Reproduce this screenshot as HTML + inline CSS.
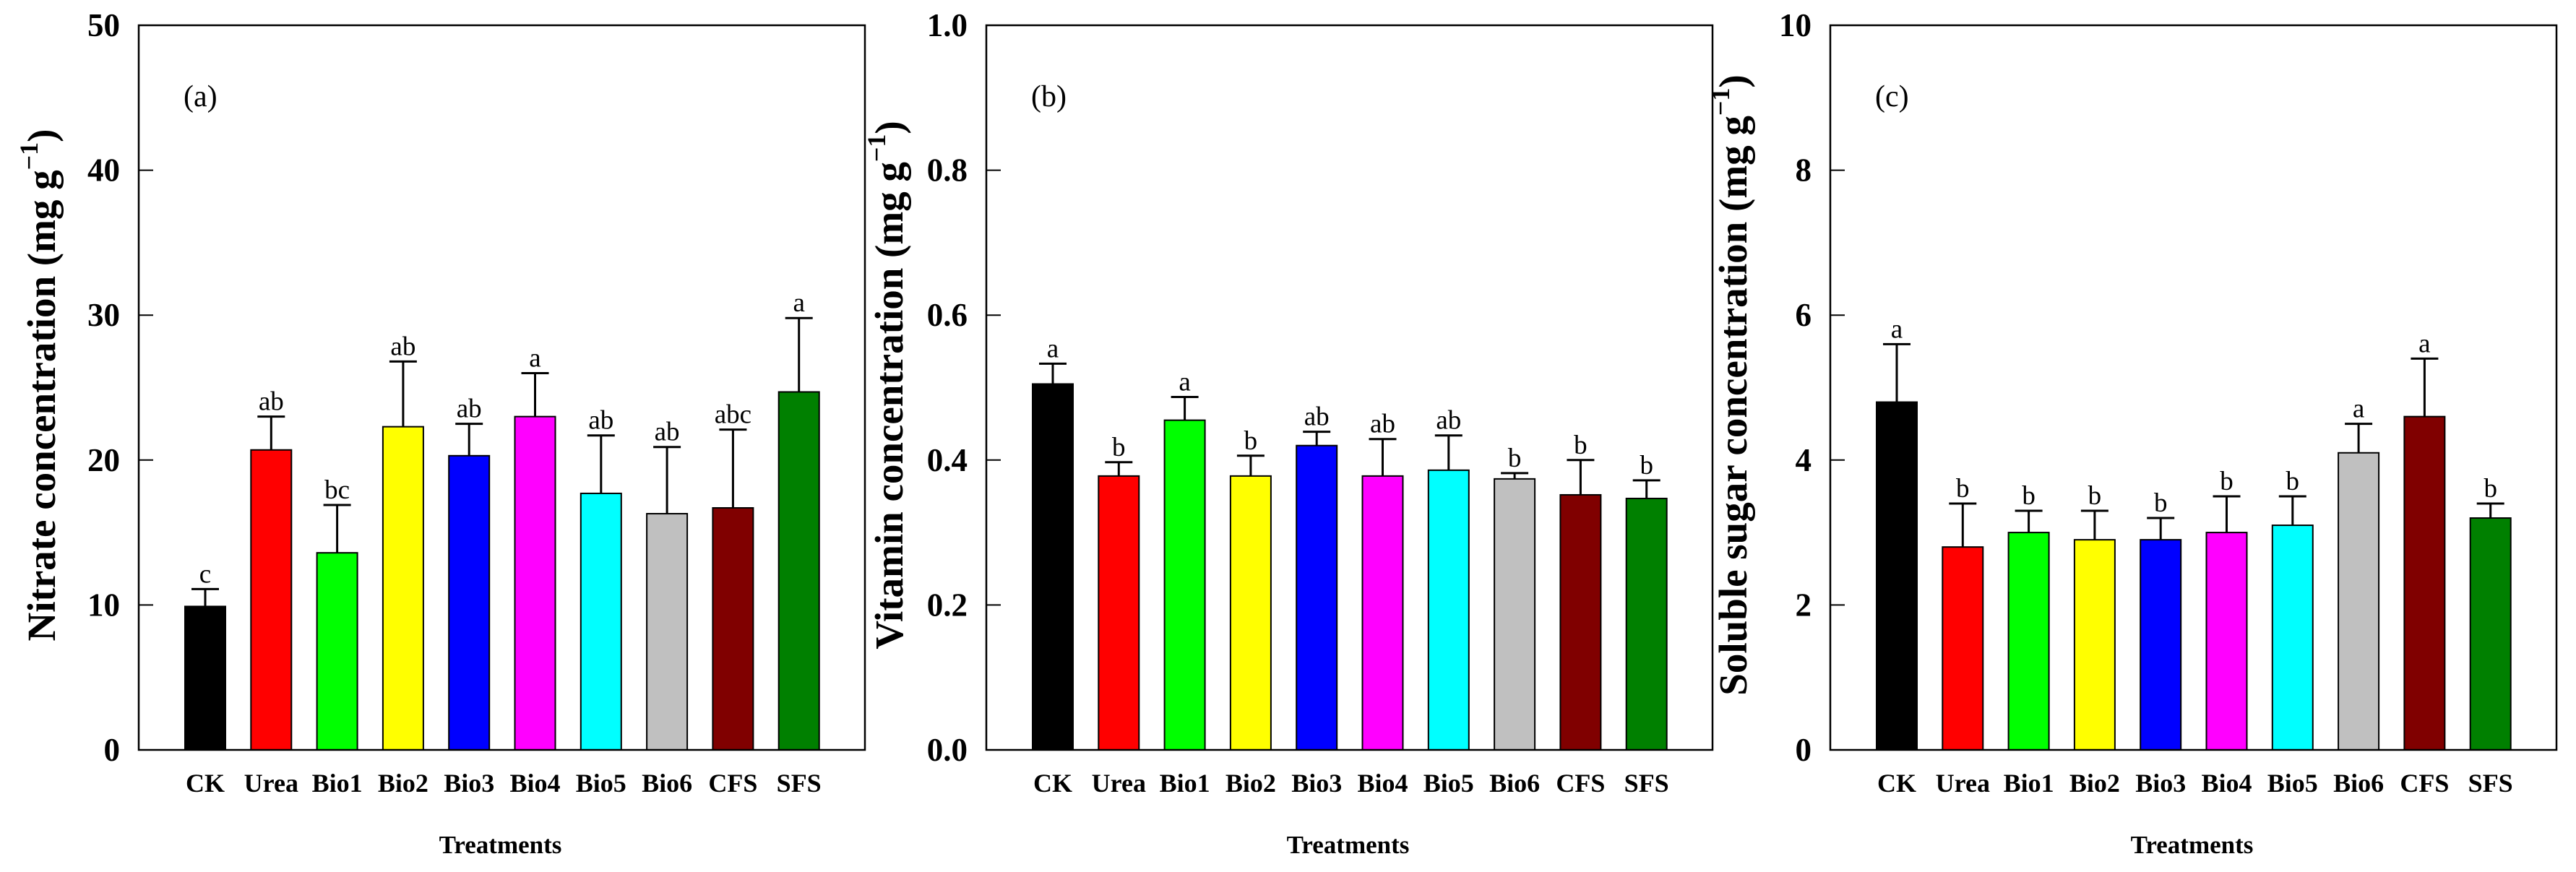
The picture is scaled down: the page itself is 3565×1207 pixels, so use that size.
<!DOCTYPE html>
<html><head><meta charset="utf-8"><style>
html,body{margin:0;padding:0;background:#fff;}
svg{display:block;font-family:"Liberation Serif",serif;}
</style></head><body>
<svg id="chart" width="3565" height="1207" viewBox="0 0 3565 1207" xmlns="http://www.w3.org/2000/svg"></svg>
<script>
const categories = ["CK","Urea","Bio1","Bio2","Bio3","Bio4","Bio5","Bio6","CFS","SFS"];
const colors = ["#000000","#ff0000","#00ff00","#ffff00","#0000ff","#ff00ff","#00ffff","#c0c0c0","#800000","#008000"];
const nitrateMean = [9.9,20.7,13.6,22.3,20.3,23.0,17.7,16.3,16.7,24.7];
const nitrateErr  = [1.2,2.3,3.3,4.5,2.2,3.0,4.0,4.6,5.4,5.1];
const nitrateSig  = ["c","ab","bc","ab","ab","a","ab","ab","abc","a"];
const nitrateTicks = ["0","10","20","30","40","50"];
const vitaminMean = [0.505,0.378,0.455,0.378,0.420,0.378,0.386,0.374,0.352,0.347];
const vitaminErr  = [0.028,0.019,0.032,0.028,0.019,0.051,0.048,0.008,0.048,0.025];
const vitaminSig  = ["a","b","a","b","ab","ab","ab","b","b","b"];
const vitaminTicks = ["0.0","0.2","0.4","0.6","0.8","1.0"];
const sugarMean = [4.8,2.8,3.0,2.9,2.9,3.0,3.1,4.1,4.6,3.2];
const sugarErr  = [0.8,0.6,0.3,0.4,0.3,0.5,0.4,0.4,0.8,0.2];
const sugarSig  = ["a","b","b","b","b","b","b","a","a","b"];
const sugarTicks = ["0","2","4","6","8","10"];

const NS="http://www.w3.org/2000/svg";
const svgEl=document.getElementById('chart');
function mk(tag,attrs,parent){const e=document.createElementNS(NS,tag);for(const k in attrs)e.setAttribute(k,attrs[k]);(parent||svgEl).appendChild(e);return e;}

const panels=[
 {left:192,label:"(a)",title:"Nitrate concentration",mean:nitrateMean,err:nitrateErr,sig:nitrateSig,ticks:nitrateTicks,max:50,key:"nitrate"},
 {left:1365,label:"(b)",title:"Vitamin concentration",mean:vitaminMean,err:vitaminErr,sig:vitaminSig,ticks:vitaminTicks,max:1.0,key:"vitamin"},
 {left:2533,label:"(c)",title:"Soluble sugar concentration",mean:sugarMean,err:sugarErr,sig:sugarSig,ticks:sugarTicks,max:10,key:"sugar"}
];
const plotTop=35,plotBottom=1038,plotW=1005;
panels.forEach(p=>{
  const g=mk('g',{});
  
  
  const y=v=>plotBottom-(v/p.max)*(plotBottom-plotTop);
  const x=i=>p.left+92+i*91.3;
  p.mean.forEach((v,i)=>{
    const e=p.err[i];
    const ln=mk('line',{x1:x(i),x2:x(i),y1:y(v),y2:y(v+e),stroke:'#000','stroke-width':3},g);
    
    
    const cap=mk('line',{x1:x(i)-19,x2:x(i)+19,y1:y(v+e),y2:y(v+e),stroke:'#000','stroke-width':3},g);
    
    
    const r=mk('rect',{x:x(i)-28,y:y(v),width:56,height:plotBottom-y(v),fill:colors[i],stroke:'#000','stroke-width':2},g);
    
    
    const t=mk('text',{x:x(i),y:y(v+e)-9,'text-anchor':'middle','font-size':37},g);
    t.textContent=p.sig[i];
    
    
    const cl=mk('text',{x:x(i),y:1096,'text-anchor':'middle','font-size':36,'font-weight':'bold'},g);
    cl.textContent=categories[i];
    
    
  });
  const fr=mk('rect',{x:p.left,y:plotTop,width:plotW,height:plotBottom-plotTop,fill:'none',stroke:'#000','stroke-width':2.5},g);
  
  
  p.ticks.forEach(tl=>{
    const v=parseFloat(tl);
    const tk=mk('line',{x1:p.left,x2:p.left+20,y1:y(v),y2:y(v),stroke:'#000','stroke-width':2},g);
    
    
    const tt=mk('text',{x:p.left-26,y:y(v)+15,'text-anchor':'end','font-size':45,'font-weight':'bold'},g);
    tt.textContent=tl;
    
    
  });
  const lb=mk('text',{x:p.left+62,y:147,'font-size':42},g);
  lb.textContent=p.label;
  
  
  const xt=mk('text',{x:p.left+plotW/2-2,y:1181,'text-anchor':'middle','font-size':35,'font-weight':'bold'},g);
  xt.textContent="Treatments";
  
  
  const yt=mk('text',{transform:`translate(${p.left-116},533) rotate(-90)`,'text-anchor':'middle','font-size':55,'font-weight':'bold'},g);
  
  
  yt.innerHTML=p.title+' (mg g<tspan dy="-24" font-size="36">−1</tspan><tspan dy="24">)</tspan>';
});
</script>
</body></html>
